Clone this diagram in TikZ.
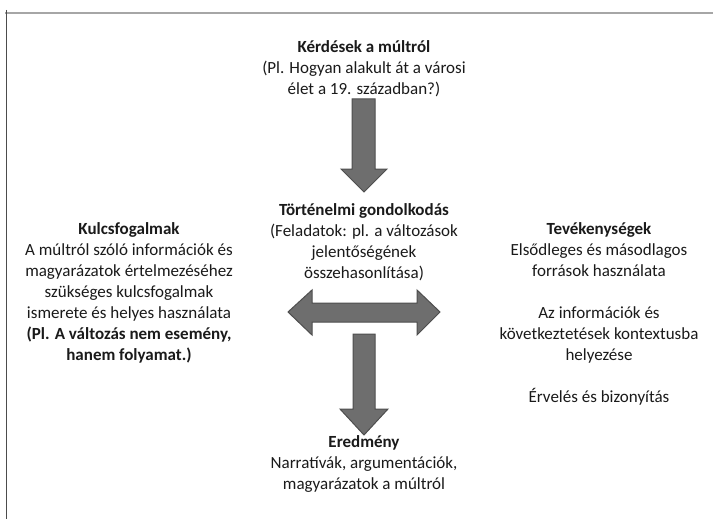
\documentclass[tikz,border=0pt]{standalone}
\usepackage{fontspec}
\setmainfont{Carlito}
\definecolor{txt}{HTML}{1A1A1A}
\definecolor{arrfill}{HTML}{6E6E6E}
\definecolor{arrline}{HTML}{4E4E4E}
\begin{document}
\begin{tikzpicture}[x=1pt,y=-1pt,
  lbl/.style={align=center,text=txt,font=\fontsize{17}{21}\selectfont,inner sep=0pt},
  blockarrow/.style={fill=arrfill,draw=arrline,line width=1pt,line join=miter}]
\useasboundingbox (0,0) rectangle (713,519);
\fill[white] (0,0) rectangle (713,519);
% frame
\draw[line width=1.5pt,color=black!35] (5,13) -- (713,13);
\draw[line width=1.5pt,color=black!70] (6.5,10) -- (6.5,519);

\node[lbl] (q) at (364,69) {\textbf{Kérdések a múltról}\\(Pl. Hogyan alakult át a városi\\élet a 19. században?)};
\node[lbl] (tg) at (364,242) {\textbf{Történelmi gondolkodás}\\(Feladatok: pl. a változások\\jelentőségének\\összehasonlítása)};
\node[lbl] (ered) at (364,464) {\textbf{Eredmény}\\Narratívák, argumentációk,\\magyarázatok a múltról};
\node[lbl] (kulcs) at (129,292.5) {\textbf{Kulcsfogalmak}\\A múltról szóló információk és\\magyarázatok értelmezéséhez\\szükséges kulcsfogalmak\\ismerete és helyes használata\\\textbf{(Pl. A változás nem esemény,}\\\textbf{hanem folyamat.)}};
\node[lbl] (tev) at (599,313.5) {\textbf{Tevékenységek}\\Elsődleges és másodlagos\\források használata\\[21pt]Az információk és\\következtetések kontextusba\\helyezése\\[21pt]Érvelés és bizonyítás};

% top arrow: from question to thinking
\draw[blockarrow] (352,99) -- (375,99) -- (375,169) -- (387,169) -- (364,192) -- (341,169) -- (352,169) -- cycle;
% horizontal double arrow: between key concepts and activities
\draw[blockarrow] (288,312) -- (312,290) -- (312,303) -- (417,303) -- (417,290) -- (440,312) -- (417,335) -- (417,322) -- (312,322) -- (312,335) -- cycle;
% bottom arrow: to result
\draw[blockarrow] (353,334) -- (375,334) -- (375,409) -- (388,409) -- (364,435) -- (340,409) -- (353,409) -- cycle;
\end{tikzpicture}
\end{document}
